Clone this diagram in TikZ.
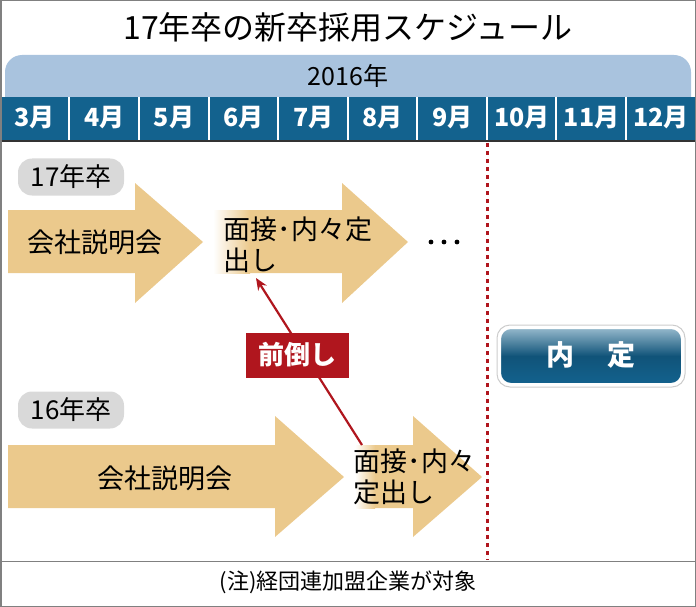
\documentclass[tikz,border=0pt]{standalone}
\usepackage{fontspec}
\setmainfont{Noto Sans CJK JP}
\usetikzlibrary{arrows.meta}
\definecolor{tan}{HTML}{EBC98C}
\definecolor{band}{HTML}{A9C3DE}
\definecolor{bar}{HTML}{13628E}
\definecolor{red}{HTML}{B0161E}
\begin{document}
\begin{tikzpicture}[x=1pt,y=-1pt,
  lbl/.style={fill=gray!30,rounded corners=14pt,minimum width=106pt,minimum height=37pt,font=\fontsize{26}{26}\selectfont,inner sep=0pt},
  mon/.style={text=white,font=\bfseries\fontsize{25}{25}\selectfont},
  atxt/.style={font=\fontsize{27}{31}\selectfont,align=left}]
\useasboundingbox (0,0) rectangle (696,607);
\draw[gray,line width=1.5pt] (0.75,0.75) rectangle (695.25,606.25);
\node (title) at (348,27) {\fontsize{32}{32}\selectfont 17年卒の新卒採用スケジュール};
% year band
\fill[band] (5,97) -- (5,72) arc[start angle=180,end angle=270,radius=17] -- (674,55) arc[start angle=-90,end angle=0,radius=17] -- (691,97) -- cycle;
\node (year) at (348,76) {\fontsize{25}{25}\selectfont 2016年};
\fill[bar] (1.5,97) rectangle (694.5,141);
\draw[black!80,line width=1.2pt] (1.5,141) -- (694.5,141);
\foreach \x in {69,139,209,278,348,417,487,556,626}{\draw[white,line width=1.5pt] (\x,97) -- (\x,140);}
\foreach \m [count=\i] in {3,4,5,6,7,8,9,10,11,12}{
  \node[mon] (m\m) at ({34.8+69.6*(\i-1)},118) {\m 月};}
\draw[red,line width=3pt,dash pattern=on 4pt off 4pt] (487,143) -- (487,560);
\draw[gray,line width=1pt] (1,561) -- (695,561);
\node (note) at (348,582) {\fontsize{22}{22}\selectfont (注)経団連加盟企業が対象};
% 17
\node[lbl] (l17) at (71,177) {17年卒};
\fill[tan] (8,210) -- (135,210) -- (135,183) -- (203,242) -- (135,303) -- (135,273) -- (8,273) -- cycle;
\fill[tan] (213,210) -- (342,210) -- (342,183) -- (408,242) -- (342,303) -- (342,273) -- (213,273) -- cycle;
\shade[left color=white,right color=tan] (213,210) rectangle (250,273);
\node[atxt] (a1) at (95,242) {会社説明会};
\node[atxt,anchor=west] (a2) at (220,245) {面接･内々定\\出し};
\node (dots) at (444,242) {\tikz[x=1pt,y=1pt]{\foreach \k in {0,13,26}\fill (\k,0) circle (2.4pt);}};
% 16
\node[lbl] (l16) at (71,410) {16年卒};
\fill[tan] (8,445) -- (275,445) -- (275,416) -- (344,477) -- (275,537) -- (275,508) -- (8,508) -- cycle;
\fill[tan] (355,445) -- (413,445) -- (413,416) -- (482,477) -- (413,537) -- (413,508) -- (355,508) -- cycle;
\shade[left color=white,right color=tan] (355,445) rectangle (375,508);
\node[atxt] (b1) at (165,478) {会社説明会};
\node[atxt,anchor=west] (b2) at (350,477) {面接･内々\\定出し};
% red arrow
\coordinate (s) at (362,445);
\coordinate (e) at (256,278);
\draw[red,line width=2.2pt,-{Stealth[length=12pt,width=10pt]}] (s) -- (e);
\node[fill=red,text=white,font=\bfseries\fontsize{26}{26}\selectfont,minimum width=103pt,minimum height=45pt,inner sep=0pt] (mae) at (297,355) {前倒し};
% naitei
\draw[gray!40,line width=1pt,rounded corners=13pt] (497,325) rectangle (685,387);
\shade[top color=bar!45,bottom color=bar,middle color=bar!85!black,rounded corners=11pt,draw=white,line width=2pt] (500,328) rectangle (682,384);
\node[text=white,font=\bfseries\fontsize{28}{28}\selectfont] (nt) at (591,355) {内\hspace{1.2em}定};
\end{tikzpicture}
\end{document}
